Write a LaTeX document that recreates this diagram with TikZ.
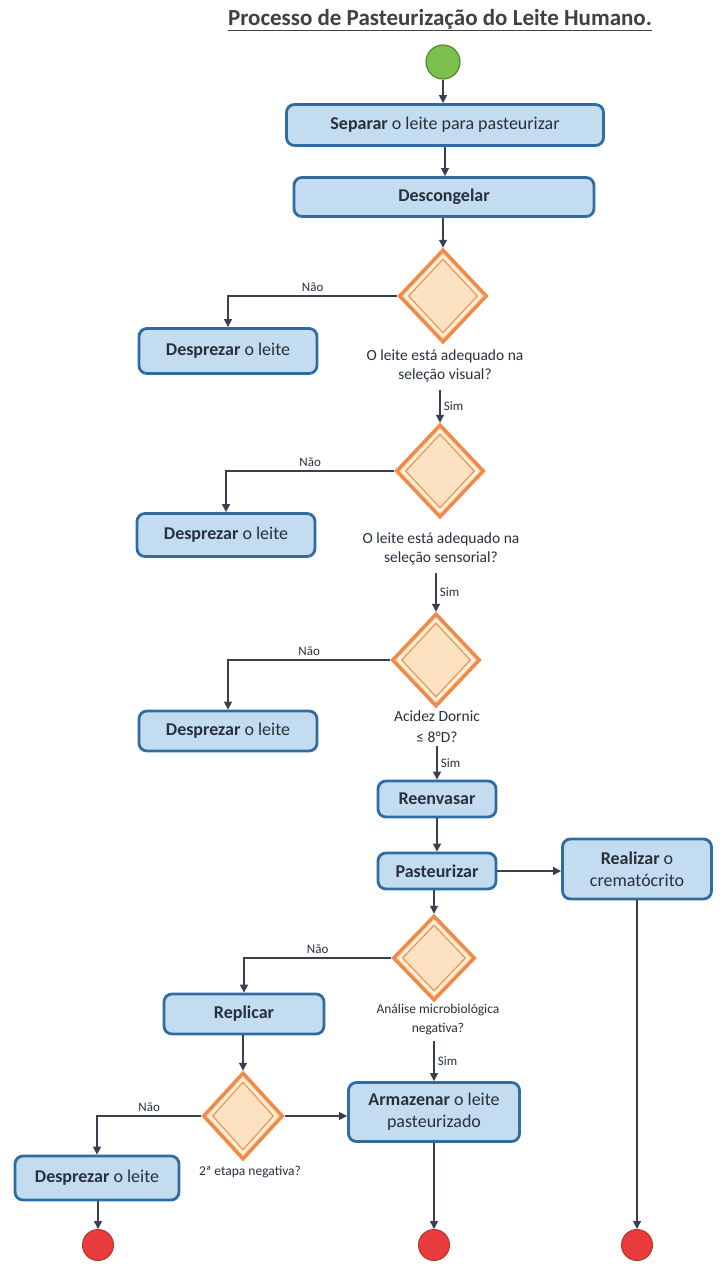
\documentclass[tikz,border=0pt]{standalone}
\usepackage{fontspec}
\setmainfont{Carlito}
\usetikzlibrary{arrows.meta,shapes.geometric}

\definecolor{boxfill}{HTML}{C4DCF0}
\definecolor{boxline}{HTML}{2F6CA3}
\definecolor{decfill}{HTML}{FDE2C2}
\definecolor{decline}{HTML}{F08A48}
\definecolor{decgap}{HTML}{FFF1DE}
\definecolor{startgreen}{HTML}{7CBF4C}
\definecolor{startline}{HTML}{4F8A30}
\definecolor{endred}{HTML}{EA3A3C}
\definecolor{endline}{HTML}{A8402A}
\definecolor{flowgray}{HTML}{3B4050}
\definecolor{txtgray}{HTML}{27303C}

\begin{document}
\begin{tikzpicture}[x=1pt,y=-1pt,>={Triangle[length=8pt,width=8pt]},
  act/.style={draw=boxline,fill=boxfill,line width=2.8pt,rounded corners=8pt,
              text=txtgray,font=\fontsize{18}{22}\selectfont,align=center,inner sep=0pt},
  dec/.style={diamond,draw=decline,fill=decfill,line width=3.5pt,inner sep=0pt,
              minimum width=88pt,minimum height=93pt,
              path picture={
                \draw[decgap,line width=2pt]
                  ([yshift=-6pt]path picture bounding box.north) -- ([xshift=-6pt]path picture bounding box.east)
                  -- ([yshift=6pt]path picture bounding box.south) -- ([xshift=6pt]path picture bounding box.west) -- cycle;
                \draw[decline,line width=1pt]
                  ([yshift=-9pt]path picture bounding box.north) -- ([xshift=-9pt]path picture bounding box.east)
                  -- ([yshift=9pt]path picture bounding box.south) -- ([xshift=9pt]path picture bounding box.west) -- cycle;}},
  ques/.style={text=txtgray,font=\fontsize{15.5}{19}\selectfont,align=center},
  small/.style={text=txtgray,font=\fontsize{13.5}{19}\selectfont,align=center},
  lbl/.style={text=txtgray,font=\fontsize{13}{15}\selectfont},
  flow/.style={->,draw=flowgray,line width=1.3pt},
  endpt/.style={circle,draw=endline,fill=endred,line width=1pt,minimum size=31pt,inner sep=0pt}]

\useasboundingbox (0,0) rectangle (723,1277);

% title and start
\node[text=black!75,font=\fontsize{23}{27}\selectfont\bfseries] (title) at (440,20)
  {\underline{Processo de Pasteurização do Leite Humano.}};
\node[circle,draw=startline,fill=startgreen,line width=1.2pt,minimum size=34pt] (start) at (443,62) {};

% main column
\node[act,minimum width=317pt,minimum height=41pt] (sep) at (445,125) {\textbf{Separar} o leite para pasteurizar};
\node[act,minimum width=300pt,minimum height=39pt] (desc) at (444,197) {\textbf{Descongelar}};
\node[dec] (visual) at (443,296) {};
\node[ques] (qvisual) at (445,366) {O leite está adequado na\\seleção visual?};
\node[act,minimum width=178pt,minimum height=45pt] (desp1) at (228,351) {\textbf{Desprezar} o leite};
\node[dec] (sensor) at (440,471) {};
\node[ques] (qsensor) at (441,549) {O leite está adequado na\\seleção sensorial?};
\node[act,minimum width=178pt,minimum height=43pt] (desp2) at (226,535) {\textbf{Desprezar} o leite};
\node[dec] (acidez) at (436,660) {};
\node[ques,font=\fontsize{15.5}{21}\selectfont] (qacidez) at (437,727) {Acidez Dornic\\≤ 8°D?};
\node[act,minimum width=178pt,minimum height=40pt] (desp3) at (228,731) {\textbf{Desprezar} o leite};
\node[act,minimum width=118pt,minimum height=36pt] (reenv) at (437,799) {\textbf{Reenvasar}};
\node[act,minimum width=118pt,minimum height=36pt] (past) at (437,871) {\textbf{Pasteurizar}};
\node[act,minimum width=149pt,minimum height=60pt] (crem) at (637,869) {\textbf{Realizar} o\\crematócrito};
\node[dec,minimum width=82pt,minimum height=85pt] (micro) at (434,958) {};
\node[small] (qmicro) at (438,1019) {Análise microbiológica\\negativa?};
\node[act,minimum width=160pt,minimum height=40pt] (repl) at (244,1014) {\textbf{Replicar}};
\node[dec,minimum width=80pt,minimum height=87pt] (etapa) at (243,1116) {};
\node[small] (qetapa) at (250,1172) {2ª etapa negativa?};
\node[act,minimum width=171pt,minimum height=59pt] (arm) at (434,1112) {\textbf{Armazenar} o leite\\pasteurizado};
\node[act,minimum width=164pt,minimum height=44pt] (desp4) at (97,1178) {\textbf{Desprezar} o leite};

% final states
\node[endpt] (end1) at (98,1245) {};
\node[endpt] (end2) at (434,1245) {};
\node[endpt] (end3) at (637,1245) {};

% connectors
\draw[flow] (start) -- (start |- sep.north);
\draw[flow] (sep.south) -- (sep.south |- desc.north);
\draw[flow] (desc.south -| visual.north) -- (visual);
\draw[flow] (visual.west) -| (desp1.north) node[lbl,pos=0.25,above] {Não};
\draw[flow] ([yshift=-4pt]sensor.north |- qvisual.south) -- (sensor) node[lbl,midway,right] {Sim};
\draw[flow] (sensor.west) -| (desp2.north) node[lbl,pos=0.25,above] {Não};
\draw[flow] ([yshift=-4pt]acidez.north |- qsensor.south) -- (acidez) node[lbl,midway,right] {Sim};
\draw[flow] (acidez.west) -| (desp3.north) node[lbl,pos=0.25,above] {Não};
\draw[flow] (qacidez.south) -- (reenv) node[lbl,midway,right] {Sim};
\draw[flow] (reenv) -- (past);
\draw[flow] (past.east) -- (past.east -| crem.west);
\draw[flow] (past.south -| micro.north) -- (micro);
\draw[flow] (micro.west) -| (repl.north) node[lbl,pos=0.25,above] {Não};
\draw[flow] ([yshift=-3pt]qmicro.south -| arm.north) -- (arm) node[lbl,midway,right] {Sim};
\draw[flow] (repl.south -| etapa.north) -- (etapa);
\draw[flow] (etapa.east) -- (etapa.east -| arm.west);
\draw[flow] (etapa.west) -| (desp4.north) node[lbl,pos=0.25,above] {Não};
\draw[flow] (desp4.south -| end1) -- (end1);
\draw[flow] (arm) -- (end2);
\draw[flow] (crem) -- (end3);
\end{tikzpicture}
\end{document}
